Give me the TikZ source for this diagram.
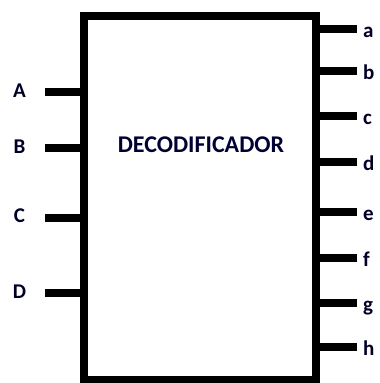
\documentclass[tikz,border=0pt]{standalone}
\usepackage{fontspec}
\setmainfont{Carlito}
\usetikzlibrary{positioning, calc}

\begin{document}
\begin{tikzpicture}[
      x=1pt, y=-1pt,
      block/.style={rectangle, draw, line width=8pt, minimum width=232pt, minimum height=364pt, inner sep=0pt},
      pin/.style={line width=8pt},
      lbl/.style={font=\fontsize{21}{21}\selectfont\bfseries, text=black!85!blue, inner sep=0pt},
      title/.style={font=\fontsize{24}{24}\selectfont\bfseries, text=black!80!blue, inner sep=0pt}
    ]
      \useasboundingbox (0,0) rectangle (380,383);
      \node[block] (dec) at (200,198) {};
      \node[title, anchor=base] (name) at (201,152) {DECODIFICADOR};

      % entradas
      \foreach \n/\y in {A/92, B/148, C/217.5, D/293} {
        \node[lbl, anchor=base] (in\n) at (19.5,\y+5) {\n};
        \coordinate (p\n) at (45,\y);
        \draw[pin] (p\n) -- (p\n -| dec.west);
      }

      % salidas
      \foreach \n/\y in {a/29, b/71, c/116, d/162, e/212, f/258, g/303, h/347} {
        \node[lbl, anchor=base west] (out\n) at (363,\y+8) {\n};
        \coordinate (q\n) at (357,\y);
        \draw[pin] (q\n -| dec.east) -- (q\n);
      }
    \end{tikzpicture}
\end{document}
